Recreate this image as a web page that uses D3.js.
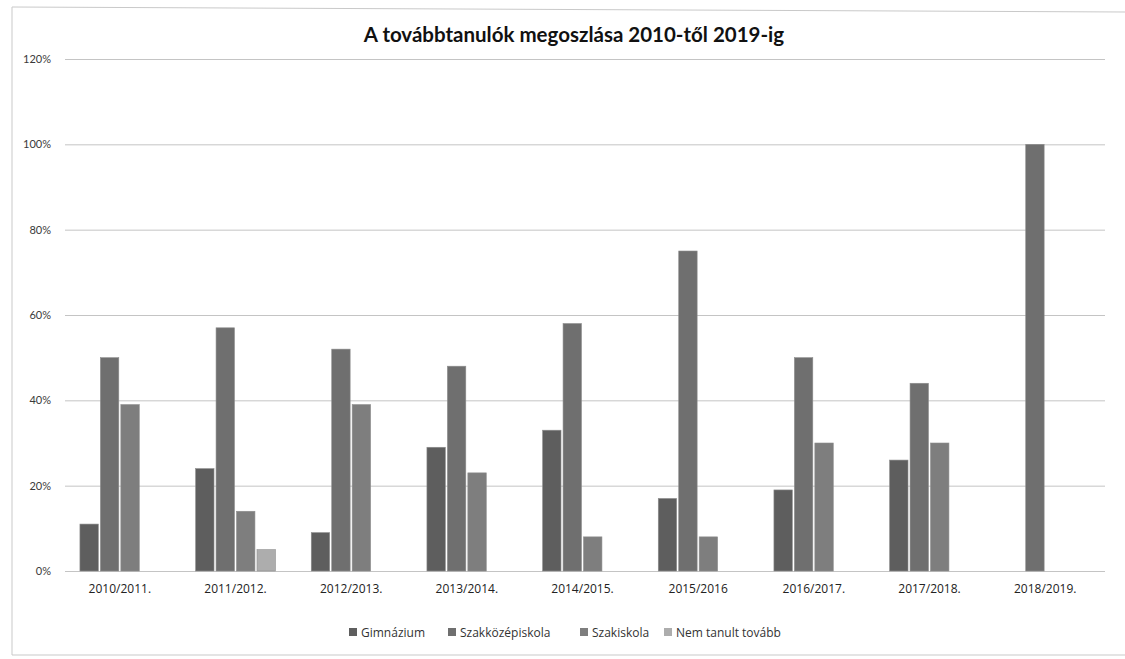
<!DOCTYPE html>
<html><head><meta charset="utf-8">
<script src="https://cdn.jsdelivr.net/npm/d3@7/dist/d3.min.js"></script>
<style>body{margin:0;background:#fff;} svg{display:block;}</style>
</head><body>
<script>
const categories = ["2010/2011.","2011/2012.","2012/2013.","2013/2014.","2014/2015.","2015/2016","2016/2017.","2017/2018.","2018/2019."];
const seriesNames = ["Gimnázium","Szakközépiskola","Szakiskola","Nem tanult tovább"];
const gimnazium      = [11, 24, 9, 29, 33, 17, 19, 26, 0];
const szakkozep      = [50, 57, 52, 48, 58, 75, 50, 44, 100];
const szakiskola     = [39, 14, 39, 23, 8, 8, 30, 30, 0];
const nemTanult      = [0, 5, 0, 0, 0, 0, 0, 0, 0];
const yTicks = [0, 20, 40, 60, 80, 100, 120];
const colors = ["#5e5e5e","#6f6f6f","#7e7e7e","#adadad"];
const title = "A továbbtanulók megoszlása 2010-től 2019-ig";

const W = 1125, H = 659;
const font = "Lato, 'Open Sans', sans-serif";
const svg = d3.select("body").append("svg").attr("width", W).attr("height", H);

// frame
svg.append("path").attr("d","M12,655 L12,7 L1125,12 M12,655 L1125,655")
  .attr("fill","none").attr("stroke","#c9c9c9").attr("stroke-width",1);

const x0 = d3.scaleBand().domain(categories).range([62,1103]).paddingInner(0.31).paddingOuter(0.155);
const x1 = d3.scaleBand().domain(seriesNames).range([0, x0.bandwidth()]).paddingInner(0.1);
const y = d3.scaleLinear().domain([0,120]).range([571,59]);

// grid
const yAxis = d3.axisLeft(y).tickValues(yTicks).tickSize(-(1105-65)).tickFormat(d => d + "%");
const gy = svg.append("g").attr("transform","translate(65,0)").call(yAxis);
gy.select(".domain").remove();
gy.selectAll(".tick line").attr("stroke","#c4c4c4").attr("stroke-width",1);
gy.selectAll(".tick text").attr("x",-14).attr("fill","#3a3a3a").style("font-family",font).style("font-size","11px");

const data = [gimnazium, szakkozep, szakiskola, nemTanult];
categories.forEach((c, i) => {
  const g = svg.append("g").attr("transform", `translate(${x0(c)},0)`);
  seriesNames.forEach((s, j) => {
    const v = data[j][i];
    if (v > 0) {
      g.append("rect").attr("x", x1(s)).attr("width", x1.bandwidth())
        .attr("y", y(v)).attr("height", y(0) - y(v))
        .attr("fill", colors[j]).attr("stroke","#8e8e8e").attr("stroke-width",0.6);
    }
  });
});

// x axis labels
const xAxis = d3.axisBottom(x0).tickSize(0).tickPadding(13);
const gx = svg.append("g").attr("transform",`translate(0,${y(0)})`).call(xAxis);
gx.select(".domain").remove();
gx.selectAll(".tick text").attr("fill","#222").style("font-family","'Open Sans', sans-serif").style("font-size","12px");

// title
svg.append("text").attr("x",574).attr("y",42).attr("text-anchor","middle")
  .style("font-family",font).style("font-weight","bold").style("font-size","20.5px").attr("fill","#111")
  .text(title);

// legend
const legendX = [349, 448, 580, 664];
const lg = svg.append("g");
seriesNames.forEach((s, j) => {
  lg.append("rect").attr("x", legendX[j]).attr("y", 628).attr("width", 8).attr("height", 8).attr("fill", colors[j]);
  lg.append("text").attr("x", legendX[j] + 12).attr("y", 637)
    .style("font-family","'Open Sans', sans-serif").style("font-size","12px").attr("fill","#333").text(s);
});
</script>
</body></html>
